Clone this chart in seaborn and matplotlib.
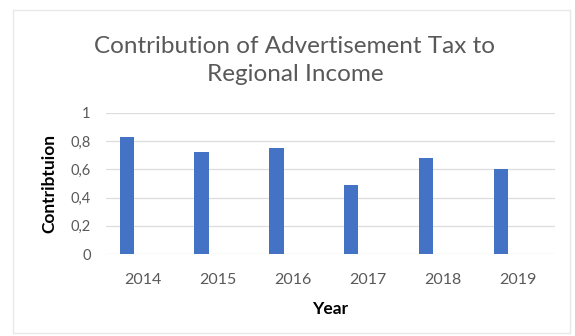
import matplotlib
matplotlib.use("Agg")
import matplotlib.pyplot as plt
import seaborn as sns
import pandas as pd
from matplotlib.patches import Rectangle

# Contribution of advertisement tax to regional income, per year
years = ["2014", "2015", "2016", "2017", "2018", "2019"]
contribution = [0.83, 0.72, 0.75, 0.49, 0.68, 0.60]
y_ticks = [0, 0.2, 0.4, 0.6, 0.8, 1]
y_tick_labels = ["0", "0,2", "0,4", "0,6", "0,8", "1"]

df = pd.DataFrame({"Year": years, "Contribution": contribution})

sns.set_theme(style="white")
plt.rcParams["font.family"] = ["Lato", "DejaVu Sans"]

fig = plt.figure(figsize=(5.75, 3.36), dpi=100)
fig.patch.set_facecolor("white")
ax = fig.add_axes([0.184, 0.244, 0.781, 0.420])

bar_color = "#4472C4"
bar_width = 0.19
sns.barplot(data=df, x="Year", y="Contribution", color=bar_color,
            width=bar_width, saturation=1, ax=ax, zorder=3)
# bars sit left of each category centre, as in a clustered column layout
for patch in ax.patches:
    patch.set_x(patch.get_x() - 0.22)
    patch.set_edgecolor("none")

ax.set_xlim(-0.5, 5.5)
ax.set_ylim(0, 1)
ax.set_yticks(y_ticks)
ax.set_yticklabels(y_tick_labels)
ax.grid(axis="y", color="#DDDDDD", linewidth=0.9, zorder=0)
ax.grid(axis="x", visible=False)
for s in ax.spines.values():
    s.set_visible(False)
ax.tick_params(axis="both", length=0, colors="#595959")
ax.tick_params(axis="x", pad=14, labelsize=11.5)
ax.tick_params(axis="y", pad=11, labelsize=10.5)

ax.set_xlabel("Year", fontsize=12.5, fontweight="bold", color="black", labelpad=10)
ax.set_ylabel("Contribtuion", fontsize=12.5, fontweight="bold", color="black", labelpad=9)

fig.text(0.513, 0.820, "Contribution of Advertisement Tax to\nRegional Income",
         ha="center", va="center", fontsize=17.5, color="#595959", linespacing=1.45)

# faint chart frame
fig.patches.append(Rectangle((13 / 575, 3 / 336), 557 / 575, 323 / 336,
                             transform=fig.transFigure, fill=False,
                             edgecolor="#E8E8E8", linewidth=1.0))

fig.savefig("out.png", dpi=100)
